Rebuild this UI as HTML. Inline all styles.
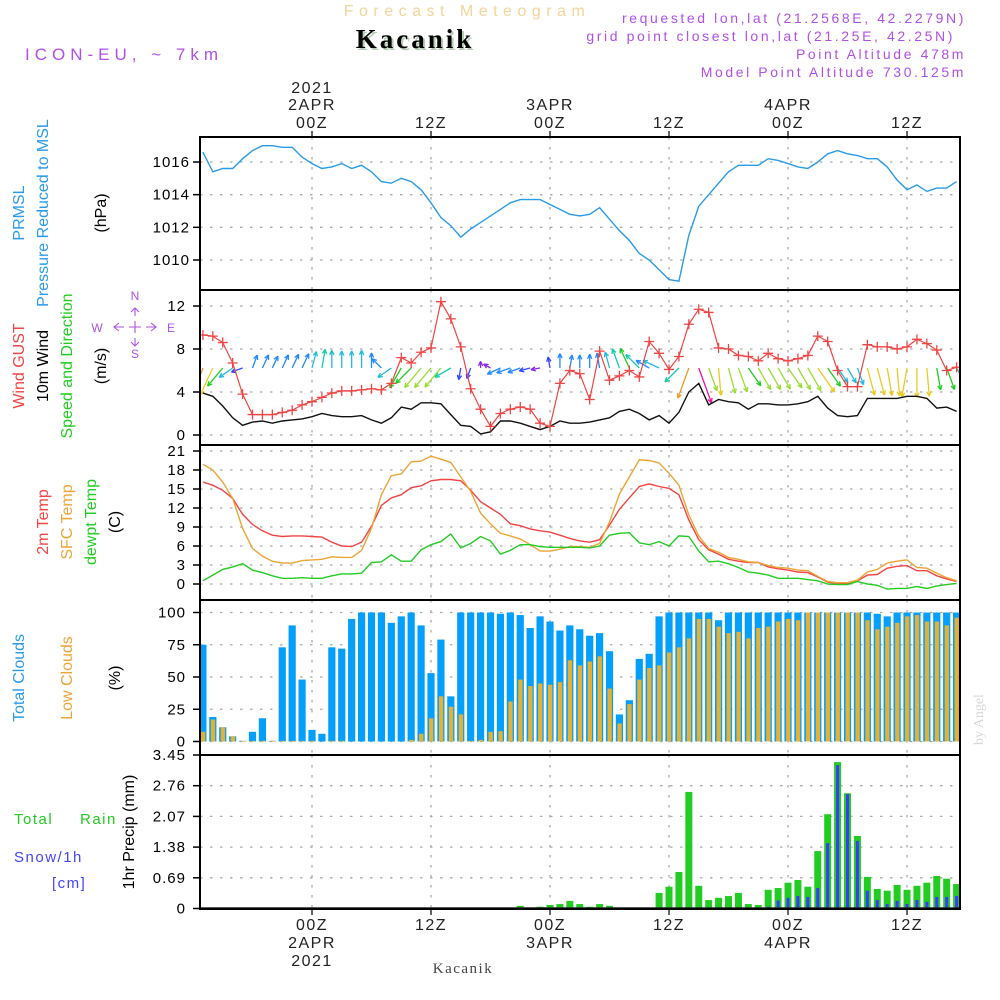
<!DOCTYPE html>
<html><head><meta charset="utf-8"><style>
html,body{margin:0;padding:0;background:#fff;}
svg{display:block;font-family:"Liberation Sans",sans-serif;}
</style></head><body>
<svg id="chart" width="1000" height="1000" viewBox="0 0 1000 1000" xmlns="http://www.w3.org/2000/svg">
<text x="467" y="16" text-anchor="middle" font-size="16" fill="#f3d49a" letter-spacing="5.5">Forecast Meteogram</text>
<text x="417" y="50" text-anchor="middle" font-size="27" font-weight="bold" font-family="Liberation Serif,serif" fill="#b8ccb8" letter-spacing="3">Kacanik</text>
<text x="415" y="48" text-anchor="middle" font-size="27" font-weight="bold" font-family="Liberation Serif,serif" fill="#000" letter-spacing="3">Kacanik</text>
<text x="25" y="60" font-size="17" fill="#b050e8" letter-spacing="5">ICON-EU, ~ 7km</text>
<g font-size="14" fill="#b050e8" text-anchor="end" letter-spacing="2.6">
<text x="966" y="23">requested lon,lat (21.2568E, 42.2279N)</text>
<text x="955" y="41">grid point closest lon,lat (21.25E, 42.25N)</text>
<text x="966" y="59">Point Altitude 478m</text>
<text x="966" y="77">Model Point Altitude 730.125m</text>
</g>
<text transform="translate(983,745) rotate(-90)" font-size="14" font-family="Liberation Serif,serif" fill="#d8d8d8">by Angel</text>
<g id="g"></g>
</svg>
<script>
// ---- data (hourly, starting 13Z 1 APR 2021) ----
const startHour = -11;
const pressure = [1016.6,1015.4,1015.6,1015.6,1016.2,1016.7,1017.0,1017.0,1016.9,1016.9,
1016.3,1015.9,1015.6,1015.7,1015.9,1015.6,1015.8,1015.4,1014.8,1014.7,
1015.0,1014.8,1014.3,1013.5,1012.6,1012.1,1011.4,1011.9,1012.3,1012.7,
1013.1,1013.5,1013.7,1013.7,1013.7,1013.4,1013.1,1012.8,1012.7,1012.8,
1013.2,1012.5,1011.8,1011.2,1010.4,1010.0,1009.4,1008.8,1008.7,1011.5,
1013.3,1014.0,1014.7,1015.4,1015.8,1015.8,1015.8,1016.2,1016.1,1015.9,
1015.7,1015.6,1016.0,1016.5,1016.7,1016.5,1016.4,1016.2,1016.2,1015.7,
1014.9,1014.3,1014.6,1014.2,1014.4,1014.4,1014.8];
const gust = [9.3,9.2,8.6,6.7,3.8,1.9,1.9,1.9,2.1,2.3,2.8,3.1,3.5,3.9,4.1,4.1,4.2,4.3,4.2,4.8,
7.2,6.7,7.7,8.1,12.4,10.8,8.2,4.3,2.4,0.8,2.0,2.4,2.6,2.4,1.1,0.8,4.8,6.0,5.7,3.3,
7.8,5.1,5.5,6.0,5.4,8.7,7.6,6.1,7.3,10.3,11.7,11.4,8.1,8.0,7.4,7.3,6.9,7.6,7.1,6.9,
7.1,7.4,9.2,8.7,6.0,4.5,4.5,8.4,8.2,8.2,8.0,8.2,8.9,8.5,7.9,6.0,6.3];
const windSpeed = [3.9,3.6,2.7,1.6,0.9,1.2,1.3,1.1,1.3,1.4,1.5,1.7,2.0,1.8,1.7,1.7,1.8,1.4,1.1,1.6,
2.6,2.4,3.0,3.0,2.9,1.9,0.9,0.8,0.1,0.3,1.3,1.3,1.1,0.8,0.5,0.8,1.3,1.1,1.1,1.2,
1.4,1.6,2.2,2.4,2.0,1.4,1.8,1.1,2.1,4.0,4.8,2.8,3.3,3.1,3.0,2.4,2.9,2.9,2.8,2.8,
2.9,3.1,3.6,2.5,1.8,1.7,1.8,3.4,3.4,3.4,3.4,3.6,3.6,3.4,2.5,2.6,2.2];
// direction the arrow points to (deg clockwise from north), null = no arrow
const windTo = [200,205,220,235,250,20,25,25,25,25,25,15,10,0,0,0,0,0,315,235,
210,225,220,220,220,240,190,200,0,300,245,250,250,255,260,350,0,10,0,0,
350,345,340,335,315,300,295,null,225,200,160,160,175,165,160,145,150,150,150,145,
150,150,145,145,145,150,160,165,165,170,175,190,180,175,170,160,150];
const temp2m = [16.1,15.6,14.8,13.5,11.0,9.4,8.4,7.7,7.5,7.6,7.6,7.5,7.4,6.6,6.0,5.9,6.6,9.1,12.4,13.6,
14.1,15.2,15.5,16.3,16.5,16.5,16.3,14.8,13.0,12.0,11.0,9.5,9.2,8.7,8.4,8.2,7.7,7.2,6.8,
6.6,7.0,9.3,11.8,13.6,15.4,15.8,15.4,15.1,14.1,10.1,7.0,5.4,4.7,3.9,3.6,3.4,3.4,2.7,2.4,
2.2,1.9,1.8,1.1,0.3,0.1,0.1,0.5,1.4,1.5,2.5,2.8,2.9,2.1,2.1,1.3,0.8,0.4];
const tempSfc = [18.9,18.0,16.1,13.5,8.8,5.6,4.4,3.6,3.3,3.3,3.7,3.8,3.9,4.3,4.2,4.2,5.3,8.8,14.1,17.1,
17.4,19.3,19.4,20.2,19.7,19.2,16.9,14.6,11.2,9.5,8.0,7.6,7.1,6.2,5.2,5.2,5.5,5.9,5.9,
5.8,6.4,9.8,14.2,16.9,19.6,19.5,19.1,17.5,15.6,10.9,7.6,5.6,5.0,4.2,3.9,3.5,3.4,2.9,2.6,
2.5,2.2,2.1,1.2,0.4,0.2,0.2,0.6,1.9,2.3,3.3,3.6,3.8,2.6,2.5,1.7,1.0,0.5];
const dewpt = [0.5,1.4,2.3,2.7,3.2,2.2,1.8,1.3,0.9,0.9,1.0,0.9,0.9,1.3,1.6,1.6,1.7,3.4,3.5,4.6,
3.6,3.6,5.4,6.2,6.7,7.9,5.7,6.4,7.5,6.8,4.7,5.3,6.2,6.2,5.9,5.8,5.8,5.8,5.8,
5.7,6.0,7.7,8.0,8.1,6.5,6.2,6.7,6.0,7.6,7.5,5.2,3.5,3.6,3.2,2.6,1.9,1.7,1.4,0.9,
0.9,0.9,0.7,0.5,0.0,-0.1,-0.1,0.4,0.0,-0.2,-0.8,-0.7,-0.7,-0.4,-0.7,-0.3,-0.1,0.1];
const totalClouds = [75,19,11,4,0.5,7.5,18,0.5,73,90,48,9,6,73,72,95,100,100,100,92,
97,100,90,53,79,35,100,100,100,100,99,100,98,88,97,93,86,90,87,
82,84,70,21,32,64,68,97,100,100,100,100,100,94,100,100,100,100,100,100,
100,100,100,100,100,100,100,100,100,99,97,100,100,100,100,100,100,100];
const lowClouds = [7.5,17,11,4,0.5,0.5,0.5,0.5,0.5,0.5,0.5,0.5,0,0.5,0.5,0,0,0,0,0,
0,1.3,6,18,35,27,21,0.5,1.3,7.5,8,31,48,43,45,44,46,63,59,
62,66,41,14,29,48,57,59,69,73,80,95,95,89,84,85,80,88,89,93,
95,94,100,100,100,100,100,100,94,87,89,92,97,98,93,93,90,96];
const rain = [0,0,0,0,0,0,0,0,0,0,0,0,0,0,0,0,0,0,0,0,0,0,0,0,0,0,0,0,0,0,0,0,
0.06,0,0.04,0.08,0.1,0.17,0.1,0.04,0.1,0.06,0,0,0,0,0.35,0.49,0.82,2.62,0.51,0.19,
0.24,0.28,0.35,0.1,0.08,0.42,0.46,0.58,0.64,0.49,1.29,2.12,3.29,2.59,1.63,0.71,0.44,0.40,0.53,0.42,
0.51,0.58,0.73,0.67,0.55];
const snow = [0,0,0,0,0,0,0,0,0,0,0,0,0,0,0,0,0,0,0,0,0,0,0,0,0,0,0,0,0,0,0,0,0,0,0,0,0,0,0,0,
0,0,0,0,0,0,0,0,0,0,0,0,0,0,0,0,0,
0.04,0.18,0.24,0.28,0.26,0.46,1.47,3.22,2.57,1.52,0.40,0.19,0.1,0.17,0.1,0.19,0.15,0.26,0.26,0.28];
const pressTicks = [1010,1012,1014,1016];
const windTicks = [0,4,8,12];
const tempTicks = [0,3,6,9,12,15,18,21];
const cloudTicks = [0,25,50,75,100];
const precipTicks = ["0","0.69","1.38","2.07","2.76","3.45"];
const timeTickHours = [0,12,24,36,48,60];
const topTimeLabels = [["2021","2APR","00Z"],["","","12Z"],["","3APR","00Z"],["","","12Z"],["","4APR","00Z"],["","","12Z"]];
const bottomTimeLabels = [["00Z","2APR","2021"],["12Z","",""],["00Z","3APR",""],["12Z","",""],["00Z","4APR",""],["12Z","",""]];

// ---- layout ----
const NS="http://www.w3.org/2000/svg";
const G=document.getElementById('g');
const L=200,R=960;
const panels={p:[137,290],w:[290,445],t:[445,600],c:[600,755],r:[755,909]};
function X(h){return 312+h*9.917;}
function lin(d0,d1,r0,r1){return v=>r0+(v-d0)*(r1-r0)/(d1-d0);}
const yP=lin(1010,1016,260,162);
const yW=lin(0,12,435,306);
const yT=lin(0,21,584,451);
const yC=lin(0,100,741.5,612.5);
const yR=lin(0,3.45,908.5,755);
function el(tag,attrs,parent){const e=document.createElementNS(NS,tag);for(const k in attrs)e.setAttribute(k,attrs[k]);(parent||G).appendChild(e);return e;}
function txt(s,attrs,parent){const e=el('text',attrs,parent);e.textContent=s;return e;}
const hours=pressure.map((_,i)=>startHour+i);

function grid(key,ticks,yf,name){
  const [t,b]=panels[key];
  const g=el('g',{});
  
  
  ticks.forEach(v=>{const y=yf(+v);
    el('line',{x1:L,x2:R,y1:y,y2:y,stroke:'#aaa','stroke-width':1.3,'stroke-dasharray':'2.5,7.5'},g);
    el('line',{x1:L-7,x2:L,y1:y,y2:y,stroke:'#000','stroke-width':1.5},g);
  });
  timeTickHours.forEach(h=>{el('line',{x1:X(h),x2:X(h),y1:t,y2:b,stroke:'#aaa','stroke-width':1.3,'stroke-dasharray':'2.5,7.5'},g);});
}
grid('p',pressTicks,yP,'pressure');
grid('w',windTicks,yW,'wind');
grid('t',tempTicks,yT,'temp');
grid('c',cloudTicks,yC,'cloud');
grid('r',precipTicks,yR,'precip');

function ylabels(ticks,yf,name,xr){
  const g=el('g',{'font-size':15,fill:'#000','text-anchor':'end','letter-spacing':'1'});
  
  
  ticks.forEach(v=>{txt(String(v),{x:xr,y:yf(+v)+5},g);});
}
ylabels(pressTicks,yP,'pressure',190);
ylabels(windTicks,yW,'wind',186);
ylabels(tempTicks,yT,'temp',186);
ylabels(cloudTicks,yC,'cloud',186);
ylabels(precipTicks,yR,'precip',186);

const tl=el('g',{'font-size':16,fill:'#222','text-anchor':'middle','letter-spacing':'1.5'});


timeTickHours.forEach((h,k)=>{
  const x=X(h);
  el('line',{x1:x,x2:x,y1:131,y2:137,stroke:'#000','stroke-width':1.2},tl);
  el('line',{x1:x,x2:x,y1:909,y2:915,stroke:'#000','stroke-width':1.2},tl);
  [93,110,128].forEach((y,j)=>{if(topTimeLabels[k][j])txt(topTimeLabels[k][j],{x:x,y:y},tl);});
  [930,948,966].forEach((y,j)=>{if(bottomTimeLabels[k][j])txt(bottomTimeLabels[k][j],{x:x,y:y},tl);});
});
txt('Kacanik',{x:463,y:973,'font-family':'Liberation Serif,serif','font-size':15,fill:'#444','text-anchor':'middle','letter-spacing':'1.5',});

const defs=el('defs',{});const cp=el('clipPath',{id:'pc'},defs);el('rect',{x:L,y:137,width:R-L,height:772},cp);
const D=el('g',{'clip-path':'url(#pc)'});



function line(arr,yf,color,name,w){
  const p=el('polyline',{points:arr.map((v,i)=>X(hours[i]).toFixed(1)+','+yf(v).toFixed(1)).join(' '),fill:'none',stroke:color,'stroke-width':w||1.4},D);
  
  
}
line(pressure,yP,'#2a9be8','pressure-line');
totalClouds.forEach((v,i)=>{const x=X(hours[i]);
  const b=el('rect',{x:x-3.6,y:yC(v),width:7.2,height:yC(0)-yC(v),fill:'#039ffc'},D);
  
  
});
lowClouds.forEach((v,i)=>{const x=X(hours[i]);
  const b=el('rect',{x:x-2,y:yC(v),width:4.3,height:yC(0)-yC(v),fill:'#e8b030'},D);
  
  
});
rain.forEach((v,i)=>{if(!v)return;const x=X(hours[i]);
  const b=el('rect',{x:x-3.5,y:yR(v),width:7,height:yR(0)-yR(v),fill:'#22cc22'},D);
  
  
});
snow.forEach((v,i)=>{if(!v)return;const x=X(hours[i]);
  const b=el('rect',{x:x-1.5,y:yR(v),width:3,height:yR(0)-yR(v),fill:'#3a3aff'},D);
  
  
});
el('line',{x1:L,x2:R,y1:908,y2:908,stroke:'#222','stroke-width':1.5},D);
line(temp2m,yT,'#f04545','temp-2m-line');
line(tempSfc,yT,'#eaa535','temp-sfc-line');
line(dewpt,yT,'#22cc22','dewpoint-line');
function spdColor(s){
  if(s>=4.5)return '#ee1199';if(s>=3.8)return '#ee9922';if(s>=3.3)return '#e8cc22';
  if(s>=2.8)return '#99dd33';if(s>=2.3)return '#22cc22';if(s>=1.9)return '#11ccaa';
  if(s>=1.6)return '#22bbdd';if(s>=1.0)return '#2288ff';if(s>=0.6)return '#3344ff';return '#8822ee';}
windTo.forEach((d,i)=>{if(d===null)return;
  const s=windSpeed[i];const len=6+6.5*s;const a=d*Math.PI/180;
  const x0=X(hours[i]),y0=368;const x1=x0+len*Math.sin(a),y1=y0-len*Math.cos(a);
  const c=spdColor(s);
  const g=el('g',{stroke:c,'stroke-width':1.3,fill:'none'},D);
  
  
  el('line',{x1:x0,y1:y0,x2:x1,y2:y1},g);
  [25,-25].forEach(o=>{const b=a+Math.PI+o*Math.PI/180;el('line',{x1:x1,y1:y1,x2:x1+5*Math.sin(b),y2:y1-5*Math.cos(b)},g);});
});
line(windSpeed,yW,'#111','wind-speed-line');
line(gust,yW,'#f04545','wind-gust-line',1.2);
gust.forEach((v,i)=>{const x=X(hours[i]),y=yW(v);
  const m=el('path',{d:`M${x-5},${y}H${x+5}M${x},${y-5}V${y+5}`,stroke:'#f04545','stroke-width':1.3},D);
  
  
});

Object.keys(panels).forEach(k=>{const [t,b]=panels[k];
  const r=el('rect',{x:L,y:t,width:R-L,height:b-t,fill:'none',stroke:'#000','stroke-width':2});
  
  
});

function vt(s,x,y,color,name,size){
  const e=txt(s,{transform:`translate(${x},${y}) rotate(-90)`,'text-anchor':'middle','font-size':size||16,fill:color});
  
  
}
vt('PRMSL',24,213,'#2a9be8','pressure-title-1');
vt('Pressure Reduced to MSL',48,213,'#2a9be8','pressure-title-2');
vt('(hPa)',106,213,'#000','pressure-unit');
vt('Wind GUST',24,366,'#f04545','gust-title');
vt('10m Wind',48,366,'#000','wind-title');
vt('Speed and Direction',72,366,'#22cc22','wind-dir-title');
vt('(m/s)',106,366,'#000','wind-unit');
vt('2m Temp',48,522,'#f04545','temp2m-title');
vt('SFC Temp',72,522,'#eaa535','sfc-temp-title');
vt('dewpt Temp',96,522,'#22cc22','dewpt-title');
vt('(C)',120,522,'#000','temp-unit');
vt('Total Clouds',24,678,'#2a9be8','total-cloud-title');
vt('Low Clouds',72,678,'#eaa535','low-cloud-title');
vt('(%)',120,678,'#000','cloud-unit');
vt('1hr Precip (mm)',134,832,'#000','precip-unit');
const pl=el('g',{'font-size':15,'letter-spacing':'1.5'});


txt('Total',{x:14,y:824,fill:'#22cc22'},pl);
txt('Rain',{x:80,y:824,fill:'#22cc22'},pl);
txt('Snow/1h',{x:14,y:862,fill:'#4444ff'},pl);
txt('[cm]',{x:52,y:888,fill:'#4444ff'},pl);
const cg=el('g',{fill:'#b050e8','font-size':12,'text-anchor':'middle'});


txt('N',{x:135,y:300},cg);txt('S',{x:135,y:358},cg);txt('W',{x:97,y:332},cg);txt('E',{x:171,y:332},cg);
el('path',{d:'M114,327H124M129,327H141M146,327H156M135,308V316M135,321V333M135,338V346M119,323L114,327L119,331M151,323L156,327L151,331M131,312L135,308L139,312M131,342L135,346L139,342',stroke:'#b050e8','stroke-width':1.1,fill:'none'},cg);
</script>
</body></html>
